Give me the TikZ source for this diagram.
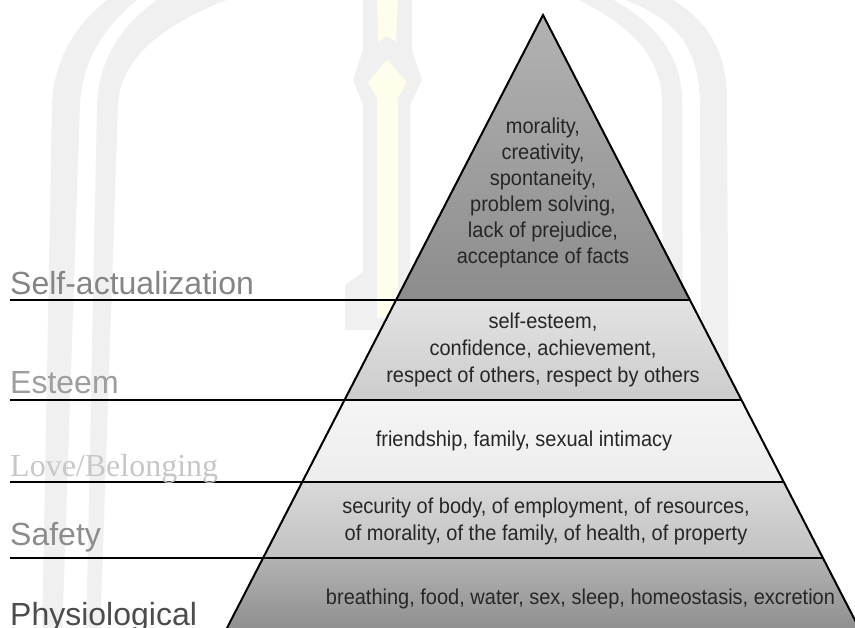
\documentclass[tikz,border=0pt]{standalone}
\usepackage{fontspec}
\setmainfont{Liberation Sans}
\newfontfamily\pyrfont[FakeStretch=0.93]{Liberation Sans}
\newfontfamily\seriflab{Liberation Serif}
\begin{document}
\begin{tikzpicture}[x=1pt,y=-1pt,
  wm/.style={fill=black!6, draw=none},
  wmy/.style={fill=yellow!7, draw=none},
  divider/.style={line width=2.2pt, black},
  edge/.style={line width=2pt, black, line join=miter},
  lab/.style={anchor=base west, font=\fontsize{32}{38}\selectfont, inner sep=0pt},
  inside/.style={font=\pyrfont\fontsize{21.5}{27}\selectfont, align=center, text=black!85, inner sep=0pt}]
\useasboundingbox (0,0) rectangle (855,628);
\clip (0,0) rectangle (855,628);
% faint watermark
\fill[wm] (42,640) -- (52,105) .. controls (54,55) and (80,20) .. (110,-2) -- (140,-2) .. controls (105,25) and (82,60) .. (80,105) -- (62,640) -- cycle;
\fill[wm] (86,640) -- (97,105) .. controls (99,60) and (120,25) .. (160,-2) -- (232,-2) .. controls (160,25) and (120,60) .. (118,105) -- (100,640) -- cycle;
\fill[wm] (702,640) -- (700,100) .. controls (698,50) and (680,20) .. (620,-2) -- (670,-2) .. controls (715,25) and (727,60) .. (727,100) -- (730,640) -- cycle;
\fill[wm] (664,640) -- (662,100) .. controls (660,55) and (630,25) .. (575,-2) -- (610,-2) .. controls (660,25) and (682,60) .. (682,100) -- (684,640) -- cycle;
\fill[wm] (363,-2) -- (412,-2) -- (412,50) -- (422,80) -- (410,105) -- (410,272) -- (400,290) -- (400,330) -- (345,330) -- (345,285) -- (363,272) -- (363,105) -- (353,80) -- (363,50) -- cycle;
\fill[wmy] (377,-2) -- (398,-2) -- (396,42) -- (387,36) -- (378,42) -- cycle;
\fill[wmy] (387,60) -- (407,82) -- (398,98) -- (398,318) -- (377,318) -- (377,98) -- (368,82) -- cycle;
% coordinates
\coordinate (A) at (543,15);
\coordinate (L1) at (396.1,300);  \coordinate (R1) at (689.9,300);
\coordinate (L2) at (344.5,400);  \coordinate (R2) at (741.5,400);
\coordinate (L3) at (302.3,482);  \coordinate (R3) at (783.7,482);
\coordinate (L4) at (263.1,558);  \coordinate (R4) at (822.9,558);
\coordinate (BL) at (220.8,640);  \coordinate (BR) at (865.2,640);
\coordinate (S1) at (10,300); \coordinate (S2) at (10,400);
\coordinate (S3) at (10,482); \coordinate (S4) at (10,558);
% band fills
\shade[top color=black!30, middle color=black!8, bottom color=black!45] (A) -- (R1) -- (L1) -- cycle;
\shade[top color=black!11, bottom color=black!20] (L1) -- (R1) -- (R2) -- (L2) -- cycle;
\shade[top color=black!4, bottom color=black!7] (L2) -- (R2) -- (R3) -- (L3) -- cycle;
\shade[top color=black!15, bottom color=black!24] (L3) -- (R3) -- (R4) -- (L4) -- cycle;
\shade[top color=black!30, bottom color=black!46] (L4) -- (R4) -- (BR) -- (BL) -- cycle;
% dividers
\draw[divider] (S1) -- (R1);
\draw[divider] (S2) -- (R2);
\draw[divider] (S3) -- (R3);
\draw[divider] (S4) -- (R4);
% pyramid edges
\draw[edge] (BL) -- (A) -- (BR);
% level labels
\node[lab, text=black!48] (sa) at (10,295) {Self-actualization};
\node[lab, text=black!38] (es) at (10,394) {Esteem};
\node[lab, text=black!22, font=\seriflab\fontsize{32}{38}\selectfont] (lb) at (10,477) {Love/Belonging};
\node[lab, text=black!45] (sf) at (10,545) {Safety};
\node[lab, text=black!70] (ph) at (10,625) {Physiological};
% contents
\node[inside, font=\pyrfont\fontsize{21.5}{26}\selectfont] (t1) at (543,193) {morality,\\creativity,\\spontaneity,\\problem solving,\\lack of prejudice,\\acceptance of facts};
\node[inside] (t2) at (543,350) {self-esteem,\\confidence, achievement,\\respect of others, respect by others};
\node[inside] (t3) at (524,441) {friendship, family, sexual intimacy};
\node[inside] (t4) at (546,521.5) {security of body, of employment, of resources,\\of morality, of the family, of health, of property};
\node[inside] (t5) at (580.5,599) {breathing, food, water, sex, sleep, homeostasis, excretion};
\end{tikzpicture}
\end{document}
